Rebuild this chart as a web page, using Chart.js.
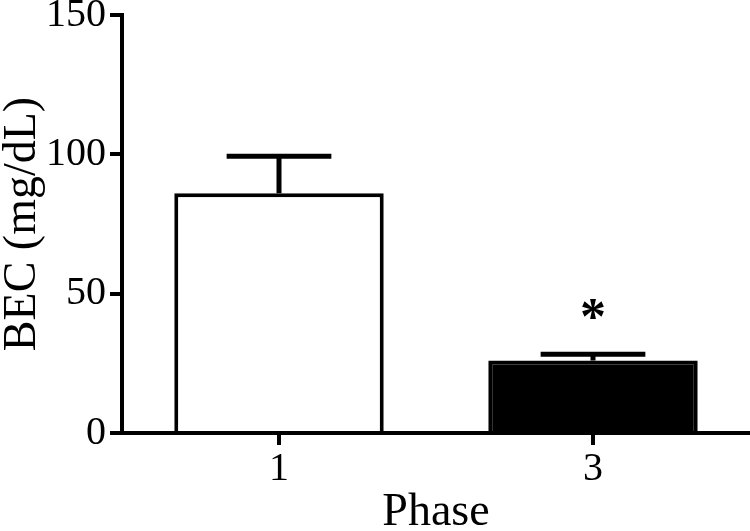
<!DOCTYPE html>
<html>
<head>
<meta charset="utf-8">
<script src="https://cdn.jsdelivr.net/npm/chart.js@4"></script>
<style>
  html, body { margin: 0; padding: 0; background: #fff; }
  #wrap { width: 750px; height: 531px; }
</style>
</head>
<body>
<div id="wrap"><canvas id="bec-chart"></canvas></div>
<script>
const phases = ['1', '3'];
const becMeans = [86, 26];
const becSems = [13.3, 2.3];
const sigMarks = ['', '*'];
const yTicks = [0, 50, 100, 150];
const barFills = ['#ffffff', '#000000'];

const serif = "'Liberation Serif', 'Times New Roman', serif";

// error bars (upper only) plus significance star, placed via the scales
const errorBarPlugin = {
    id: 'errorBars',
    afterDatasetsDraw(chart) {
        const ctx = chart.ctx;
        const x = chart.scales.x;
        const y = chart.scales.y;
        const meta = chart.getDatasetMeta(0);
        ctx.save();
        ctx.strokeStyle = '#000';
        ctx.lineWidth = 5;
        becMeans.forEach((m, i) => {
            const bar = meta.data[i];
            const cx = x.getPixelForValue(i);
            const yTop = y.getPixelForValue(m);
            const yErr = y.getPixelForValue(m + becSems[i]);
            const half = bar.width / 4;
            ctx.beginPath();
            ctx.moveTo(cx, yTop);
            ctx.lineTo(cx, yErr);
            ctx.moveTo(cx - half, yErr);
            ctx.lineTo(cx + half, yErr);
            ctx.stroke();
            if (sigMarks[i]) {
                ctx.fillStyle = '#000';
                ctx.font = 'bold 52px ' + serif;
                ctx.textAlign = 'center';
                ctx.textBaseline = 'alphabetic';
                ctx.fillText(sigMarks[i], cx, yErr - 20);
            }
        });
        ctx.restore();
    }
};

new Chart(document.getElementById('bec-chart'), {
    type: 'bar',
    data: {
        labels: phases,
        datasets: [{
            data: becMeans,
            backgroundColor: barFills,
            borderColor: '#000',
            borderWidth: 4,
            borderSkipped: 'bottom',
            barPercentage: 0.667,
            categoryPercentage: 1
        }]
    },
    options: {
        responsive: true,
        maintainAspectRatio: false,
        animation: false,
        layout: { padding: { top: 0, right: 0, left: 0, bottom: 0 } },
        plugins: {
            legend: { display: false },
            tooltip: { enabled: false }
        },
        scales: {
            x: {
                offset: true,
                afterFit(scale) { scale.height = 98; },
                grid: {
                    offset: false,
                    drawOnChartArea: false,
                    drawTicks: true,
                    tickLength: 12,
                    color: '#000',
                    lineWidth: 4
                },
                border: { color: '#000', width: 4 },
                ticks: {
                    color: '#000',
                    padding: 4,
                    font: { family: serif, size: 40, lineHeight: 1 }
                },
                title: {
                    display: true,
                    text: 'Phase',
                    color: '#000',
                    padding: { top: 0, bottom: -5 },
                    font: { family: serif, size: 46, lineHeight: 1 }
                }
            },
            y: {
                min: 0,
                max: 150,
                afterFit(scale) { scale.width = 122; },
                afterBuildTicks(scale) {
                    scale.ticks = yTicks.map(v => ({ value: v }));
                },
                grid: {
                    drawOnChartArea: false,
                    drawTicks: true,
                    tickLength: 12,
                    color: '#000',
                    lineWidth: 4
                },
                border: { color: '#000', width: 4 },
                ticks: {
                    color: '#000',
                    padding: 4,
                    font: { family: serif, size: 40, lineHeight: 0.55 }
                },
                title: {
                    display: true,
                    text: 'BEC (mg/dL)',
                    color: '#000',
                    padding: { top: 0, bottom: 0 },
                    font: { family: serif, size: 46, lineHeight: 1 }
                }
            }
        }
    },
    plugins: [errorBarPlugin]
});
</script>
</body>
</html>
